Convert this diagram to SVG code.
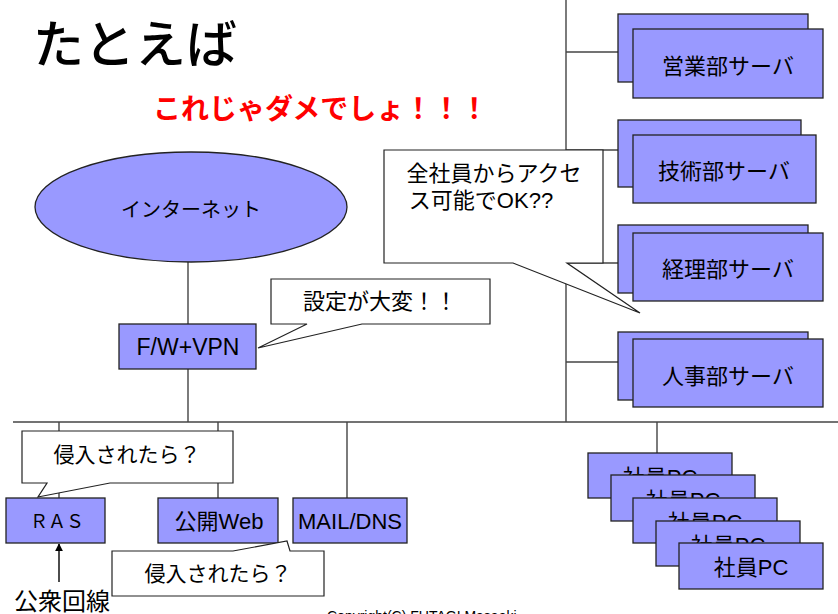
<svg xmlns="http://www.w3.org/2000/svg" width="838" height="614" viewBox="0 0 838 614">
<defs>
<marker id="arr" viewBox="0 0 10 10" refX="9" refY="5" markerWidth="8" markerHeight="8" orient="auto" markerUnits="userSpaceOnUse">
<path d="M0,0 L10,5 L0,10 z" fill="#000"/>
</marker>
<style>
.box{fill:#9999FF;stroke:#222;stroke-width:1.3}
.call{fill:#fff;stroke:#222;stroke-width:1.2}
.ln{stroke:#444;stroke-width:1.4;fill:none}
.t{font-family:"Liberation Sans","Noto Sans CJK JP",sans-serif;fill:#000;text-anchor:middle}
.j{font-family:"Noto Sans CJK JP",sans-serif;fill:#000;text-anchor:middle}
</style>
</defs>
<rect width="838" height="614" fill="#fff"/>

<text x="33" y="63" font-size="51" font-weight="500" style="font-family:'Noto Sans CJK JP',sans-serif" fill="#000">たとえば</text>
<text x="153" y="119" font-size="28" font-weight="bold" style="font-family:'Noto Sans CJK JP',sans-serif" fill="#FF0000">これじゃダメでしょ！！！</text>

<g id="connectors">
<line class="ln" x1="566" y1="0" x2="566" y2="422"/>
<line class="ln" x1="13" y1="422" x2="838" y2="422"/>
<line class="ln" x1="566" y1="52" x2="618" y2="52"/>
<line class="ln" x1="566" y1="150" x2="618" y2="150"/>
<line class="ln" x1="566" y1="263" x2="618" y2="263"/>
<line class="ln" x1="566" y1="362" x2="618" y2="362"/>
<line class="ln" x1="188" y1="262" x2="188" y2="324"/>
<line class="ln" x1="188" y1="369" x2="188" y2="422"/>
<line class="ln" x1="59" y1="422" x2="59" y2="498"/>
<line class="ln" x1="218" y1="422" x2="218" y2="498"/>
<line class="ln" x1="347" y1="422" x2="347" y2="498"/>
<line class="ln" x1="657" y1="422" x2="657" y2="453"/>
<line x1="59" y1="582" x2="59" y2="544" stroke="#000" stroke-width="1.4" marker-end="url(#arr)"/>
</g>

<g id="internet">
<ellipse cx="191" cy="207" rx="156" ry="55" class="box"/>
<text class="j" x="191" y="217" font-size="20">インターネット</text>
</g>

<g id="fw">
<rect x="119" y="324" width="137" height="45" class="box"/>
<text class="t" x="188" y="355" font-size="23">F/W+VPN</text>
</g>

<g id="server-eigyo">
<rect x="618" y="14" width="190" height="68" class="box"/>
<rect x="633" y="29" width="190" height="69" class="box"/>
<text class="j" x="728" y="74" font-size="22">営業部サーバ</text>
</g>
<g id="server-gijutsu">
<rect x="618" y="120" width="183" height="67" class="box"/>
<rect x="633" y="135" width="183" height="68" class="box"/>
<text class="j" x="724" y="179" font-size="22">技術部サーバ</text>
</g>
<g id="server-keiri">
<rect x="618" y="225" width="190" height="68" class="box"/>
<rect x="633" y="233" width="190" height="68" class="box"/>
<text class="j" x="728" y="277" font-size="22">経理部サーバ</text>
</g>
<g id="server-jinji">
<rect x="618" y="332" width="190" height="68" class="box"/>
<rect x="633" y="339" width="190" height="68" class="box"/>
<text class="j" x="728" y="384" font-size="22">人事部サーバ</text>
</g>

<g id="callout-access">
<path class="call" d="M384,150 H603 V263 H567 L640,313 L513,263 H384 Z"/>
<text class="j" x="494" y="181" font-size="22">全社員からアクセ</text>
<text class="t" x="481" y="208" font-size="22">ス可能でOK??</text>
</g>

<g id="callout-settei">
<path class="call" d="M271,279 H490 V324 H362 L258,348 L307,324 H271 Z"/>
<text class="j" x="380" y="309" font-size="22">設定が大変！！</text>
</g>

<g id="callout-ras">
<path class="call" d="M22,431 H233 V483 H110 L38,497 L47,483 H22 Z"/>
<text class="j" x="127" y="462" font-size="21">侵入されたら？</text>
</g>

<g id="ras">
<rect x="6" y="498" width="99" height="45" class="box"/>
<text class="j" x="57" y="528" font-size="18">ＲＡＳ</text>
</g>
<g id="web">
<rect x="158" y="498" width="120" height="45" class="box"/>
<text class="t" x="219" y="529" font-size="22">公開Web</text>
</g>
<g id="mail">
<rect x="293" y="498" width="114" height="45" class="box"/>
<text class="t" x="350" y="529" font-size="22">MAIL/DNS</text>
</g>

<g id="callout-web">
<path class="call" d="M112,551 H233 L287,541 L290,551 H324 V596 H112 Z"/>
<text class="j" x="218" y="581" font-size="21">侵入されたら？</text>
</g>

<g id="pcs">
<rect x="588" y="453" width="144" height="45" class="box"/>
<text class="t" x="660" y="485" font-size="22">社員PC</text>
<rect x="611" y="475" width="144" height="46" class="box"/>
<text class="t" x="683" y="508" font-size="22">社員PC</text>
<rect x="633" y="498" width="144" height="45" class="box"/>
<text class="t" x="705" y="530" font-size="22">社員PC</text>
<rect x="656" y="521" width="144" height="45" class="box"/>
<text class="t" x="728" y="553" font-size="22">社員PC</text>
<rect x="679" y="543" width="144" height="46" class="box"/>
<text class="t" x="751" y="575" font-size="22">社員PC</text>
</g>

<g id="koshu">
<text class="j" x="62" y="610" font-size="24">公衆回線</text>
</g>

<text x="327" y="621" font-size="14" style="font-family:'Liberation Sans',sans-serif" fill="#000">Copyright(C) FUTAGI Masaaki</text>
</svg>
